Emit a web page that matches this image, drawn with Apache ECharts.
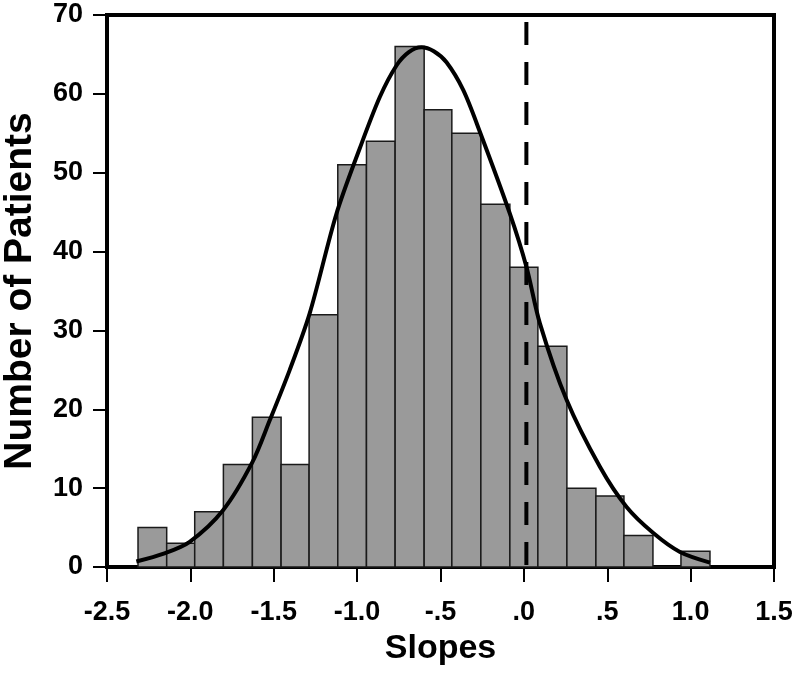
<!DOCTYPE html>
<html>
<head>
<meta charset="utf-8">
<script src="https://cdn.jsdelivr.net/npm/echarts@6/dist/echarts.min.js"></script>
<style>
html,body{margin:0;padding:0;background:#fff;}
#chart{width:800px;height:674px;}
</style>
</head>
<body>
<div id="chart"></div>
<script>
// Histogram bin edges (slope values)
const binEdges = [-2.314, -2.142, -1.974, -1.802, -1.628, -1.456, -1.288, -1.116, -0.944, -0.772,
                  -0.598, -0.432, -0.258, -0.084, 0.084, 0.258, 0.432, 0.600, 0.774, 0.942, 1.116];
// Number of patients per bin
const binCounts = [5, 3, 7, 13, 19, 13, 32, 51, 54, 66, 58, 55, 46, 38, 28, 10, 9, 4, 0, 2];
// Fitted normal curve [slope, count]
const curveX = [-2.324, -2.16, -2.004, -1.804, -1.628, -1.524, -1.404, -1.284, -1.124, -0.984,
                -0.864, -0.764, -0.69, -0.614, -0.54, -0.464, -0.364, -0.264, -0.084, 0.016, 0.096, 0.256,
                0.456, 0.616, 0.776, 0.936, 1.116];
const curveY = [0.7, 1.7, 3.2, 7.2, 13.3, 18.6, 25.0, 32.2, 44.8, 53.1,
                59.6, 63.6, 65.3, 65.9, 65.4, 64.0, 60.5, 55.2, 44.8, 38.0, 30.9, 21.2,
                12.7, 7.6, 4.3, 1.9, 0.55];
// Reference (dashed) line position
const refLineX = 0.015;
const refLineTop = 69.1;
// Tick labels
const xTickValues = [-2.5, -2.0, -1.5, -1.0, -0.5, 0.0, 0.5, 1.0, 1.5];
const xTickLabels = ['-2.5', '-2.0', '-1.5', '-1.0', '-.5', '.0', '.5', '1.0', '1.5'];
const yTickLabels = ['0', '10', '20', '30', '40', '50', '60', '70'];
const xTitle = 'Slopes';
const yTitle = 'Number of Patients';

const histData = binCounts.map((c, i) => [binEdges[i], binEdges[i + 1], c]);
const curveData = curveX.map((x, i) => [x, curveY[i]]);

const FONT = '"Liberation Sans", Arial, Helvetica, sans-serif';
const chart = echarts.init(document.getElementById('chart'), null, {renderer: 'canvas'});

chart.setOption({
  animation: false,
  backgroundColor: '#fff',
  grid: {left: 107, right: 26, top: 15, bottom: 107, containLabel: false, outerBoundsMode: 'none',
         show: true, borderColor: '#000', borderWidth: 4, backgroundColor: 'transparent'},
  xAxis: {
    type: 'value', min: -2.5, max: 1.5, interval: 0.5,
    name: xTitle, nameLocation: 'middle', nameGap: 65,
    nameTextStyle: {fontFamily: FONT, fontWeight: 'bold', fontSize: 34, color: '#000'},
    axisLine: {show: true, onZero: false, lineStyle: {color: '#000', width: 4}},
    axisTick: {show: true, length: 15, lineStyle: {color: '#000', width: 2}},
    axisLabel: {
      margin: 32, fontFamily: FONT, fontWeight: 'bold', fontSize: 27, color: '#000',
      formatter: v => { const i = xTickValues.findIndex(t => Math.abs(t - v) < 1e-6); return i >= 0 ? xTickLabels[i] : ''; }
    },
    splitLine: {show: false}
  },
  yAxis: {
    type: 'value', min: 0, max: 70, interval: 10,
    name: yTitle, nameLocation: 'middle', nameGap: 67, nameRotate: 90,
    nameTextStyle: {fontFamily: FONT, fontWeight: 'bold', fontSize: 39, color: '#000'},
    axisLine: {show: true, onZero: false, lineStyle: {color: '#000', width: 4}},
    axisTick: {show: true, length: 14, lineStyle: {color: '#000', width: 2}},
    axisLabel: {
      margin: 24, fontFamily: FONT, fontWeight: 'bold', fontSize: 27, color: '#000',
      formatter: v => yTickLabels[Math.round(v / 10)] ?? ''
    },
    splitLine: {show: false}
  },
  series: [
    {
      type: 'custom',
      data: histData,
      encode: {x: [0, 1], y: 2},
      renderItem: (params, api) => {
        const p0 = api.coord([api.value(0), api.value(2)]);
        const p1 = api.coord([api.value(1), 0]);
        return {
          type: 'rect',
          shape: {x: p0[0], y: p0[1], width: p1[0] - p0[0], height: p1[1] - p0[1]},
          style: {fill: '#9a9a9a', stroke: '#1a1a1a', lineWidth: 1.5}
        };
      },
      z: 2
    },
    {
      type: 'line',
      data: [[refLineX, refLineTop], [refLineX, 0]],
      showSymbol: false,
      lineStyle: {color: '#000', width: 4, type: [23, 17]},
      z: 3
    },
    {
      type: 'line',
      data: curveData,
      smooth: 0.3,
      showSymbol: false,
      lineStyle: {color: '#000', width: 4},
      z: 4
    }
  ]
});
</script>
</body>
</html>
